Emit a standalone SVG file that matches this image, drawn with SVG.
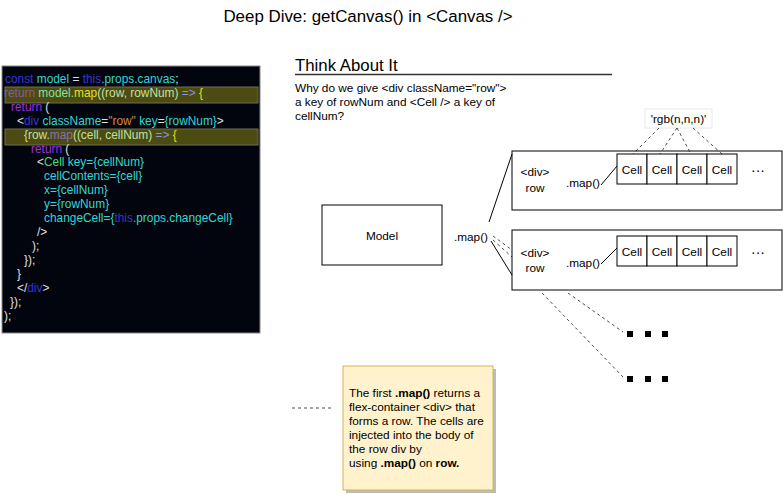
<svg xmlns="http://www.w3.org/2000/svg" width="783" height="494" viewBox="0 0 783 494">
<defs>
<style>
text{font-family:"Liberation Sans",Arial,sans-serif;}
.t11{font-size:11.8px;fill:#000;}
.code{font-size:11.9px;}
.b{fill:#3434d8}.c{fill:#33d6d6}.w{fill:#e0e0e0}.p{fill:#9b30e0}.o{fill:#d4884a}.g{fill:#3ddc84}
.hp{fill:#8a5aa0}.hg{fill:#86e0a0}.hy{fill:#e6e020}.hl{fill:#c4e0a0}.ha{fill:#9090e0}.hm{fill:#8a70b0}
.box{fill:#fff;stroke:#000;stroke-width:1}
.dash{fill:none;stroke:#000;stroke-width:0.7;stroke-dasharray:3 3}
.sol{fill:none;stroke:#000;stroke-width:1}
.hl-bar{fill:#4b4b12;stroke:#707050;stroke-width:1}
.dots{font-size:14px;fill:#000}
</style>
</defs>
<rect width="783" height="494" fill="#fff"/>
<text x="368" y="22" text-anchor="middle" font-size="16.9">Deep Dive: getCanvas() in &lt;Canvas /&gt;</text>

<g id="code">
<rect x="2" y="66" width="258" height="267" fill="#02050d" stroke="#888" stroke-width="1"/>
<rect class="hl-bar" x="5" y="87" width="253" height="16"/>
<rect class="hl-bar" x="5" y="129" width="253" height="16"/>
<g class="code">
<text x="5" y="83"><tspan class="b">const</tspan><tspan class="c"> model </tspan><tspan class="w">= </tspan><tspan class="b">this</tspan><tspan class="c">.props.canvas</tspan><tspan class="w">;</tspan></text>
<text x="4" y="97"><tspan class="hp">return</tspan><tspan class="hg"> model.</tspan><tspan class="hy">map</tspan><tspan class="hl">((row, rowNum) </tspan><tspan class="ha">=&gt; </tspan><tspan class="hy">{</tspan></text>
<text x="11" y="111"><tspan class="p">return</tspan><tspan class="w"> (</tspan></text>
<text x="17" y="125"><tspan class="w">&lt;</tspan><tspan class="b">div</tspan><tspan class="c"> className</tspan><tspan class="w">=</tspan><tspan class="o">"row"</tspan><tspan class="c"> key</tspan><tspan class="w">=</tspan><tspan class="c">{rowNum}</tspan><tspan class="w">&gt;</tspan></text>
<text x="24" y="139"><tspan class="hl">{row.</tspan><tspan class="hm">map</tspan><tspan class="hl">((cell, cellNum) </tspan><tspan class="ha">=&gt; </tspan><tspan class="hy">{</tspan></text>
<text x="31" y="153"><tspan class="p">return</tspan><tspan class="w"> (</tspan></text>
<text x="37" y="166"><tspan class="w">&lt;</tspan><tspan class="g">Cell</tspan><tspan class="c"> key={cellNum}</tspan></text>
<text x="44" y="180" class="c">cellContents={cell}</text>
<text x="44" y="194" class="c">x={cellNum}</text>
<text x="44" y="208" class="c">y={rowNum}</text>
<text x="44" y="222"><tspan class="c">changeCell={</tspan><tspan class="b">this</tspan><tspan class="c">.props.changeCell}</tspan></text>
<text x="37" y="236" class="w">/&gt;</text>
<text x="32" y="250" class="w">);</text>
<text x="24" y="264" class="w">});</text>
<text x="17" y="278" class="w">}</text>
<text x="17" y="292"><tspan class="w">&lt;/</tspan><tspan class="b">div</tspan><tspan class="w">&gt;</tspan></text>
<text x="10" y="306" class="w">});</text>
<text x="4" y="320" class="w">);</text>
</g>
</g>

<g id="think">
<text x="295" y="71" font-size="16.8">Think About It</text>
<line x1="295" y1="74.5" x2="612" y2="74.5" stroke="#333" stroke-width="1.5"/>
<text class="t11" x="295" y="92">Why do we give &lt;div className="row"&gt;</text>
<text class="t11" x="295" y="106">a key of rowNum and &lt;Cell /&gt; a key of</text>
<text class="t11" x="295" y="120">cellNum?</text>
</g>

<g id="model">
<rect class="box" x="322" y="205" width="120" height="60"/>
<text class="t11" x="382" y="240" text-anchor="middle">Model</text>
</g>
<g id="map-label">
<text class="t11" x="471" y="241" text-anchor="middle">.map()</text>
</g>

<g id="rgb">
<rect x="645" y="109" width="67" height="19" fill="#fff" stroke="#e8e8e8" stroke-width="1"/>
<text class="t11" x="678.5" y="123" text-anchor="middle">'rgb(n,n,n)'</text>
</g>

<g id="row1">
<rect class="box" x="512" y="151" width="270" height="59"/>
<text class="t11" x="535" y="176" text-anchor="middle">&lt;div&gt;</text>
<text class="t11" x="535" y="192" text-anchor="middle">row</text>
<text class="t11" x="583" y="187" text-anchor="middle">.map()</text>
<g id="row1-cells">
<rect class="box" x="617" y="154" width="30" height="30"/>
<rect class="box" x="647" y="154" width="30" height="30"/>
<rect class="box" x="677" y="154" width="30" height="30"/>
<rect class="box" x="707" y="154" width="30" height="30"/>
<text class="t11" x="632" y="174" text-anchor="middle">Cell</text>
<text class="t11" x="662" y="174" text-anchor="middle">Cell</text>
<text class="t11" x="692" y="174" text-anchor="middle">Cell</text>
<text class="t11" x="722" y="174" text-anchor="middle">Cell</text>
</g>
<text class="dots" x="758" y="175" text-anchor="middle">···</text>
</g>

<g id="row2">
<rect class="box" x="512" y="230" width="270" height="60"/>
<text class="t11" x="535" y="257" text-anchor="middle">&lt;div&gt;</text>
<text class="t11" x="535" y="272" text-anchor="middle">row</text>
<text class="t11" x="583" y="267" text-anchor="middle">.map()</text>
<g id="row2-cells">
<rect class="box" x="617" y="236" width="30" height="30"/>
<rect class="box" x="647" y="236" width="30" height="30"/>
<rect class="box" x="677" y="236" width="30" height="30"/>
<rect class="box" x="707" y="236" width="30" height="30"/>
<text class="t11" x="632" y="256" text-anchor="middle">Cell</text>
<text class="t11" x="662" y="256" text-anchor="middle">Cell</text>
<text class="t11" x="692" y="256" text-anchor="middle">Cell</text>
<text class="t11" x="722" y="256" text-anchor="middle">Cell</text>
</g>
<text class="dots" x="758" y="257" text-anchor="middle">···</text>
</g>

<g id="more1">
<rect x="627" y="331" width="6" height="6" fill="#000"/>
<rect x="645" y="331" width="6" height="6" fill="#000"/>
<rect x="662" y="331" width="6" height="6" fill="#000"/>
</g>
<g id="more2">
<rect x="627" y="376" width="6" height="6" fill="#000"/>
<rect x="645" y="376" width="6" height="6" fill="#000"/>
<rect x="662" y="376" width="6" height="6" fill="#000"/>
</g>

<g id="note">
<rect x="346" y="369" width="150" height="124" fill="#bbb"/>
<rect x="343" y="366" width="150" height="124" fill="#fff2cc" stroke="#d6b656" stroke-width="1"/>
<text class="t11" x="349" y="397">The first <tspan font-weight="bold">.map()</tspan> returns a</text>
<text class="t11" x="349" y="411">flex-container &lt;div&gt; that</text>
<text class="t11" x="349" y="425">forms a row. The cells are</text>
<text class="t11" x="349" y="439">injected into the body of</text>
<text class="t11" x="349" y="453">the row div by</text>
<text class="t11" x="349" y="467">using <tspan font-weight="bold">.map()</tspan> on <tspan font-weight="bold">row.</tspan></text>
</g>

<g id="connectors">
<line class="sol" x1="489" y1="222" x2="512" y2="154"/>
<line class="sol" x1="491" y1="241" x2="512" y2="275"/>
<line class="dash" x1="493" y1="236" x2="512" y2="250"/>
<line class="dash" x1="493" y1="240" x2="512" y2="257"/>
<line class="sol" x1="601" y1="185" x2="617" y2="166"/>
<line class="sol" x1="601" y1="264" x2="617" y2="248"/>
<line class="dash" x1="659" y1="128" x2="633" y2="154"/>
<line class="dash" x1="677" y1="128" x2="660" y2="154"/>
<line class="dash" x1="677" y1="128" x2="691" y2="154"/>
<line class="dash" x1="693" y1="128" x2="722" y2="154"/>
<line class="dash" x1="568" y1="293" x2="623" y2="332"/>
<line class="dash" x1="542" y1="293" x2="623" y2="377"/>
<line class="dash" x1="292" y1="408" x2="332" y2="408"/>
</g>
</svg>
